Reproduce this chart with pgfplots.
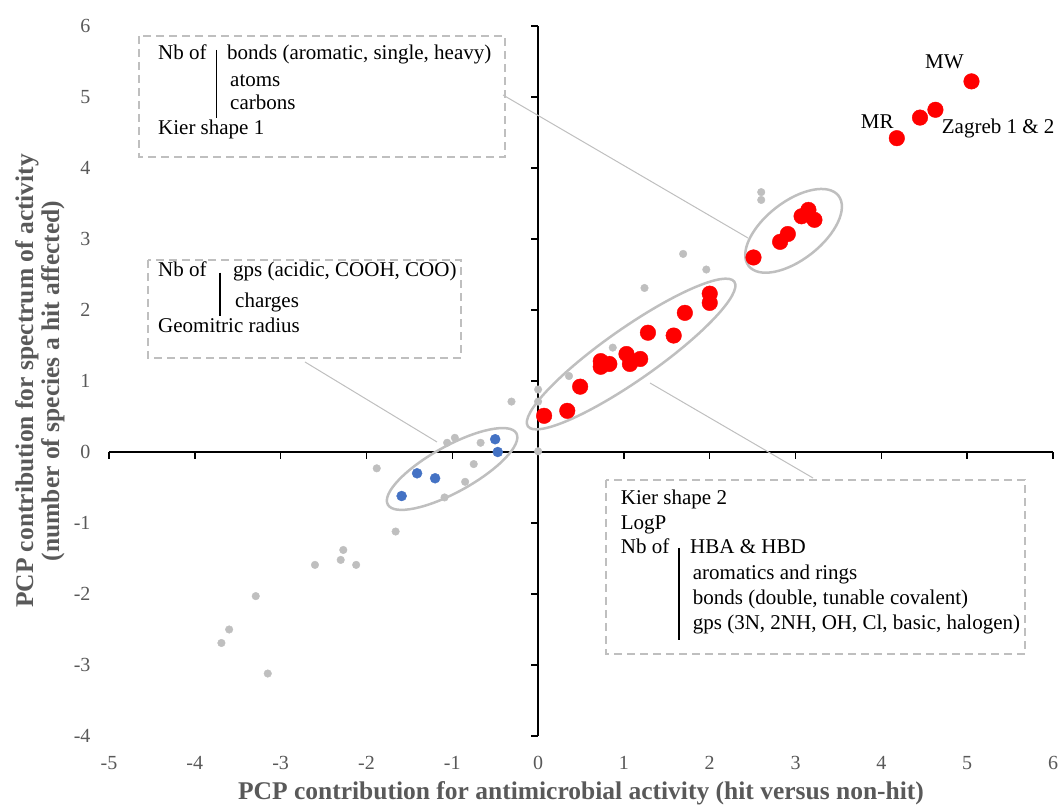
\documentclass[border=0pt]{standalone}
\usepackage{fontspec}
\setmainfont{Liberation Serif}
\usepackage{pgfplots}
\pgfplotsset{compat=1.18}
\usetikzlibrary{shapes.geometric}
\definecolor{ptred}{HTML}{FF0000}
\definecolor{ptblue}{HTML}{4472C4}
\definecolor{ptgray}{HTML}{BFBFBF}
\definecolor{txtgray}{HTML}{595959}
\newcommand\bx{\fontsize{21}{25}\selectfont}
\begin{document}
\begin{tikzpicture}
% middle axis lines with ticks
\begin{axis}[at={(0,0)}, anchor=south west, scale only axis, width=944pt, height=710pt,
  xmin=-5, xmax=6, ymin=-4, ymax=6,
  axis lines=middle, axis line style={-, black, line width=1.5pt},
  xtick={-5,...,6}, ytick={-4,...,6}, xticklabels={}, yticklabels={},
  tick style={black, line width=1.5pt}, major tick length=7pt, tick align=center,
  xtick style={yshift=-3.5pt}, ytick style={xshift=-3.5pt},
  hide obscured x ticks=false, hide obscured y ticks=false]
\end{axis}
% data axis with labels
\begin{axis}[name=ax, at={(0,0)}, anchor=south west, scale only axis, width=944pt, height=710pt,
  xmin=-5, xmax=6, ymin=-4, ymax=6,
  xtick={-5,...,6}, ytick={-4,...,6},
  axis line style={draw=none}, major tick length=0pt, tick style={draw=none},
  /pgf/number format/assume math mode=true,
  tick label style={font=\fontsize{20}{24}\selectfont, text=txtgray},
  xticklabel style={yshift=-17pt}, yticklabel style={xshift=-15pt},
  xlabel={PCP contribution for antimicrobial activity (hit versus non-hit)},
  ylabel={PCP contribution for spectrum of activity\\(number of species a hit affected)},
  label style={font=\fontsize{25.5}{26}\selectfont\bfseries, text=txtgray},
  xlabel style={at={(axis description cs:0.5,-0.0803)}, anchor=center},
  ylabel style={at={(axis description cs:-0.0731,0.5)}, anchor=center, align=center},
  clip=false]
\node[draw=ptgray, line width=2.5pt, ellipse, inner sep=0pt, minimum width=147pt, minimum height=46pt, rotate=29] at (axis cs:-1.002,-0.239) {};
\node[draw=ptgray, line width=2.5pt, ellipse, inner sep=0pt, minimum width=252pt, minimum height=52pt, rotate=35] at (axis cs:1.084,1.380) {};
\node[draw=ptgray, line width=2.5pt, ellipse, inner sep=0pt, minimum width=114pt, minimum height=58pt, rotate=38] at (axis cs:2.977,3.115) {};
\addplot[only marks, mark=*, mark size=3.8pt, mark options={fill=ptgray, draw=ptgray}] coordinates {
(-3.69,-2.69) (-3.60,-2.50) (-3.29,-2.03) (-3.15,-3.12) (-2.60,-1.59) (-2.30,-1.52)
(-2.27,-1.38) (-2.12,-1.59) (-1.88,-0.23) (-1.66,-1.12) (-1.09,-0.64) (-1.06,0.13)
(-0.97,0.20) (-0.85,-0.42) (-0.75,-0.17) (-0.67,0.13) (-0.31,0.71) (0,0.01) (0,0.71)
(0,0.88) (0.36,1.07) (0.87,1.47) (1.24,2.31) (1.69,2.79) (1.96,2.57) (2.60,3.55) (2.60,3.66)};
\addplot[only marks, mark=*, mark size=5pt, mark options={fill=ptblue, draw=ptblue}] coordinates {
(-1.59,-0.62) (-1.41,-0.30) (-1.20,-0.37) (-0.50,0.18) (-0.47,0.0)};
\addplot[only marks, mark=*, mark size=7.8pt, mark options={fill=ptred, draw=ptred}] coordinates {
(0.07,0.51) (0.34,0.58) (0.49,0.92) (0.73,1.28) (0.73,1.20) (0.83,1.24) (1.03,1.38)
(1.07,1.24) (1.19,1.31) (1.28,1.68) (1.58,1.64) (1.71,1.96) (2.00,2.23) (2.00,2.10)
(2.51,2.74) (2.82,2.96) (2.91,3.07) (3.07,3.32) (3.15,3.41) (3.22,3.27)
(4.18,4.42) (4.45,4.71) (4.63,4.82) (5.05,5.22)};
\end{axis}
% annotations in pixel coordinates of the reference
\begin{scope}[shift={(ax.south west)}, shift={(-109pt,736pt)}, x=1pt, y=-1pt]
\draw[ptgray, line width=1pt] (503,95) -- (748,238);
\draw[ptgray, line width=1pt] (305,362) -- (437,442);
\draw[ptgray, line width=1pt] (813,478) -- (650,383);
\draw[ptgray, line width=2.5pt, dash pattern=on 8pt off 5pt] (139,36) rectangle (505,157);
\draw[ptgray, line width=2.5pt, dash pattern=on 8pt off 5pt] (148,260) rectangle (461,358);
\draw[ptgray, line width=2.5pt, dash pattern=on 8pt off 5pt] (606,480) rectangle (1025,654);
\begin{scope}[every node/.style={anchor=base west, inner sep=0pt, font=\bx, text=black}]
\node at (158,60) {Nb of};
\node at (227,60) {bonds (aromatic, single, heavy)};
\node at (230,86.7) {atoms};
\node at (230,110) {carbons};
\node at (158,135) {Kier shape 1};
\node at (158,277) {Nb of};
\node at (233,277) {gps (acidic, COOH, COO)};
\node at (235,308) {charges};
\node at (158,332.5) {Geomitric radius};
\node at (620.7,505) {Kier shape 2};
\node at (620.7,530) {LogP};
\node at (620.7,554) {Nb of};
\node at (690,554) {HBA \& HBD};
\node at (692.7,579.5) {aromatics and rings};
\node at (692.7,605) {bonds (double, tunable covalent)};
\node at (692.7,630) {gps (3N, 2NH, OH, Cl, basic, halogen)};
\node at (925,68.3) {MW};
\node at (860.7,129) {MR};
\node at (941.7,134) {Zagreb 1 \& 2};
\end{scope}
\draw[black, line width=1.2pt] (216.7,50) -- (216.7,118);
\draw[black, line width=1.2pt] (220,272.7) -- (220,316);
\draw[black, line width=1.2pt] (679,548) -- (679,640);
\pgfresetboundingbox
\path (0,0) rectangle (1063,805);
\end{scope}
\end{tikzpicture}
\end{document}
